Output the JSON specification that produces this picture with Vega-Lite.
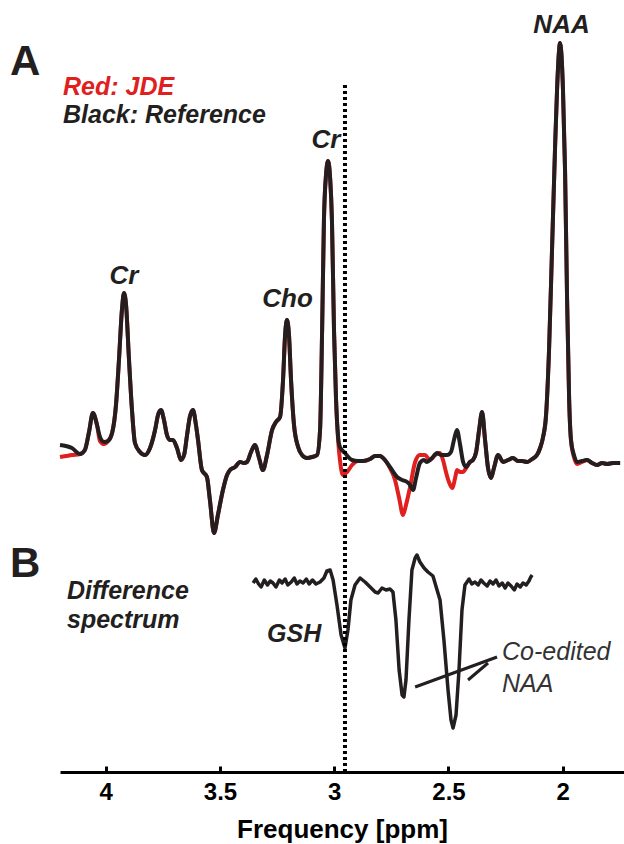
{
  "$schema": "https://vega.github.io/schema/vega-lite/v6.json",
  "width": 564,
  "height": 772,
  "autosize": {"type": "none"},
  "padding": {"left": 60, "top": 0, "right": 0, "bottom": 72},
  "background": "white",
  "config": {"view": {"stroke": null}, "font": "Liberation Sans"},
  "datasets": {
    "black": [
      {"ppm":4.200,"v":32.7},{"ppm":4.174,"v":32.6},{"ppm":4.148,"v":32.4},{"ppm":4.112,"v":31.8},{"ppm":4.091,"v":32.2},{"ppm":4.073,"v":34.0},{"ppm":4.056,"v":35.9},{"ppm":4.038,"v":34.7},{"ppm":4.025,"v":33.5},{"ppm":4.007,"v":33.0},{"ppm":3.990,"v":33.1},{"ppm":3.972,"v":33.9},{"ppm":3.955,"v":36.7},{"ppm":3.942,"v":41.2},{"ppm":3.929,"v":46.2},{"ppm":3.920,"v":47.9},{"ppm":3.911,"v":46.7},{"ppm":3.898,"v":41.2},{"ppm":3.885,"v":36.2},{"ppm":3.872,"v":32.9},{"ppm":3.850,"v":32.0},{"ppm":3.828,"v":31.7},{"ppm":3.806,"v":32.4},{"ppm":3.784,"v":34.2},{"ppm":3.771,"v":35.7},{"ppm":3.758,"v":36.2},{"ppm":3.745,"v":35.2},{"ppm":3.732,"v":33.7},{"ppm":3.719,"v":33.2},{"ppm":3.706,"v":33.2},{"ppm":3.688,"v":32.4},{"ppm":3.671,"v":31.2},{"ppm":3.657,"v":31.7},{"ppm":3.644,"v":33.7},{"ppm":3.631,"v":35.6},{"ppm":3.618,"v":36.2},{"ppm":3.605,"v":34.7},{"ppm":3.596,"v":33.2},{"ppm":3.579,"v":30.2},{"ppm":3.557,"v":29.5},{"ppm":3.544,"v":27.2},{"ppm":3.526,"v":23.9},{"ppm":3.509,"v":25.7},{"ppm":3.487,"v":28.2},{"ppm":3.469,"v":29.7},{"ppm":3.456,"v":30.2},{"ppm":3.434,"v":30.5},{"ppm":3.412,"v":31.0},{"ppm":3.395,"v":30.9},{"ppm":3.382,"v":31.0},{"ppm":3.364,"v":32.0},{"ppm":3.347,"v":32.7},{"ppm":3.329,"v":31.4},{"ppm":3.312,"v":30.2},{"ppm":3.294,"v":31.7},{"ppm":3.272,"v":34.2},{"ppm":3.255,"v":35.0},{"ppm":3.237,"v":35.5},{"ppm":3.224,"v":39.2},{"ppm":3.215,"v":43.7},{"ppm":3.207,"v":45.2},{"ppm":3.198,"v":43.7},{"ppm":3.189,"v":39.2},{"ppm":3.176,"v":34.7},{"ppm":3.158,"v":32.5},{"ppm":3.141,"v":31.7},{"ppm":3.119,"v":31.4},{"ppm":3.097,"v":31.5},{"ppm":3.075,"v":31.7},{"ppm":3.062,"v":34.2},{"ppm":3.053,"v":44.2},{"ppm":3.045,"v":55.2},{"ppm":3.036,"v":59.7},{"ppm":3.027,"v":61.1},{"ppm":3.018,"v":59.4},{"ppm":3.010,"v":55.2},{"ppm":3.001,"v":44.2},{"ppm":2.992,"v":37.2},{"ppm":2.983,"v":33.5},{"ppm":2.975,"v":32.5},{"ppm":2.953,"v":31.9},{"ppm":2.922,"v":31.2},{"ppm":2.896,"v":31.1},{"ppm":2.874,"v":31.1},{"ppm":2.843,"v":31.3},{"ppm":2.821,"v":31.6},{"ppm":2.800,"v":31.6},{"ppm":2.778,"v":31.2},{"ppm":2.756,"v":30.5},{"ppm":2.725,"v":29.5},{"ppm":2.703,"v":29.2},{"ppm":2.681,"v":29.0},{"ppm":2.668,"v":28.7},{"ppm":2.655,"v":28.2},{"ppm":2.642,"v":29.4},{"ppm":2.625,"v":30.9},{"ppm":2.607,"v":31.2},{"ppm":2.594,"v":31.0},{"ppm":2.572,"v":31.4},{"ppm":2.550,"v":31.9},{"ppm":2.533,"v":31.7},{"ppm":2.506,"v":31.7},{"ppm":2.489,"v":32.0},{"ppm":2.476,"v":33.2},{"ppm":2.463,"v":34.2},{"ppm":2.449,"v":32.7},{"ppm":2.436,"v":31.0},{"ppm":2.423,"v":30.5},{"ppm":2.406,"v":31.0},{"ppm":2.393,"v":31.2},{"ppm":2.379,"v":32.0},{"ppm":2.366,"v":34.2},{"ppm":2.353,"v":36.0},{"ppm":2.340,"v":33.2},{"ppm":2.327,"v":30.4},{"ppm":2.314,"v":29.4},{"ppm":2.301,"v":30.4},{"ppm":2.283,"v":31.7},{"ppm":2.261,"v":31.0},{"ppm":2.239,"v":31.2},{"ppm":2.218,"v":31.4},{"ppm":2.196,"v":31.1},{"ppm":2.178,"v":31.1},{"ppm":2.156,"v":31.0},{"ppm":2.134,"v":31.3},{"ppm":2.113,"v":31.7},{"ppm":2.099,"v":32.4},{"ppm":2.086,"v":33.5},{"ppm":2.073,"v":35.7},{"ppm":2.060,"v":42.2},{"ppm":2.047,"v":52.2},{"ppm":2.034,"v":62.2},{"ppm":2.025,"v":68.2},{"ppm":2.016,"v":72.2},{"ppm":2.012,"v":72.9},{"ppm":2.008,"v":72.4},{"ppm":1.999,"v":68.2},{"ppm":1.990,"v":60.2},{"ppm":1.981,"v":47.2},{"ppm":1.972,"v":37.2},{"ppm":1.964,"v":33.2},{"ppm":1.951,"v":31.7},{"ppm":1.937,"v":31.0},{"ppm":1.916,"v":31.1},{"ppm":1.894,"v":31.2},{"ppm":1.872,"v":30.9},{"ppm":1.850,"v":30.7},{"ppm":1.828,"v":30.9},{"ppm":1.806,"v":30.8},{"ppm":1.780,"v":30.9},{"ppm":1.749,"v":30.9}
    ],
    "red": [
      {"ppm":4.200,"v":31.5},{"ppm":4.174,"v":31.6},{"ppm":4.148,"v":31.7},{"ppm":4.112,"v":31.8},{"ppm":4.091,"v":32.2},{"ppm":4.073,"v":34.0},{"ppm":4.056,"v":35.9},{"ppm":4.038,"v":34.7},{"ppm":4.025,"v":33.1},{"ppm":4.007,"v":32.8},{"ppm":3.990,"v":33.1},{"ppm":3.972,"v":33.9},{"ppm":3.955,"v":36.7},{"ppm":3.942,"v":41.2},{"ppm":3.929,"v":46.2},{"ppm":3.920,"v":47.9},{"ppm":3.911,"v":46.7},{"ppm":3.898,"v":41.2},{"ppm":3.885,"v":36.2},{"ppm":3.872,"v":32.9},{"ppm":3.850,"v":32.0},{"ppm":3.828,"v":31.7},{"ppm":3.806,"v":32.4},{"ppm":3.784,"v":34.2},{"ppm":3.771,"v":35.7},{"ppm":3.758,"v":36.2},{"ppm":3.745,"v":35.2},{"ppm":3.732,"v":33.7},{"ppm":3.719,"v":33.2},{"ppm":3.706,"v":33.2},{"ppm":3.688,"v":32.4},{"ppm":3.671,"v":31.2},{"ppm":3.657,"v":31.7},{"ppm":3.644,"v":33.7},{"ppm":3.631,"v":35.6},{"ppm":3.618,"v":36.2},{"ppm":3.605,"v":34.7},{"ppm":3.596,"v":33.2},{"ppm":3.579,"v":30.2},{"ppm":3.557,"v":29.5},{"ppm":3.544,"v":27.2},{"ppm":3.526,"v":23.9},{"ppm":3.509,"v":25.7},{"ppm":3.487,"v":28.2},{"ppm":3.469,"v":29.7},{"ppm":3.456,"v":30.2},{"ppm":3.434,"v":30.5},{"ppm":3.412,"v":31.0},{"ppm":3.395,"v":30.9},{"ppm":3.382,"v":31.0},{"ppm":3.364,"v":32.0},{"ppm":3.347,"v":32.7},{"ppm":3.329,"v":31.4},{"ppm":3.312,"v":30.2},{"ppm":3.294,"v":31.7},{"ppm":3.272,"v":34.2},{"ppm":3.255,"v":35.0},{"ppm":3.237,"v":35.5},{"ppm":3.224,"v":39.2},{"ppm":3.215,"v":43.7},{"ppm":3.207,"v":45.2},{"ppm":3.198,"v":43.7},{"ppm":3.189,"v":39.2},{"ppm":3.176,"v":34.7},{"ppm":3.158,"v":32.5},{"ppm":3.141,"v":31.7},{"ppm":3.119,"v":31.4},{"ppm":3.097,"v":31.5},{"ppm":3.075,"v":31.7},{"ppm":3.062,"v":34.2},{"ppm":3.053,"v":44.2},{"ppm":3.045,"v":55.2},{"ppm":3.036,"v":59.7},{"ppm":3.027,"v":61.1},{"ppm":3.018,"v":59.4},{"ppm":3.010,"v":55.2},{"ppm":3.001,"v":44.2},{"ppm":2.992,"v":37.2},{"ppm":2.983,"v":33.2},{"ppm":2.975,"v":31.2},{"ppm":2.962,"v":29.7},{"ppm":2.944,"v":30.0},{"ppm":2.922,"v":30.7},{"ppm":2.896,"v":31.1},{"ppm":2.874,"v":31.1},{"ppm":2.843,"v":31.3},{"ppm":2.821,"v":31.6},{"ppm":2.800,"v":31.6},{"ppm":2.778,"v":31.2},{"ppm":2.756,"v":30.4},{"ppm":2.734,"v":29.2},{"ppm":2.716,"v":27.4},{"ppm":2.699,"v":25.7},{"ppm":2.686,"v":26.7},{"ppm":2.668,"v":28.5},{"ppm":2.646,"v":31.0},{"ppm":2.625,"v":31.7},{"ppm":2.603,"v":31.7},{"ppm":2.581,"v":31.2},{"ppm":2.559,"v":31.7},{"ppm":2.537,"v":31.9},{"ppm":2.524,"v":31.2},{"ppm":2.511,"v":30.0},{"ppm":2.498,"v":29.0},{"ppm":2.484,"v":28.4},{"ppm":2.471,"v":29.4},{"ppm":2.463,"v":30.2},{"ppm":2.449,"v":30.0},{"ppm":2.436,"v":30.0},{"ppm":2.423,"v":30.4},{"ppm":2.406,"v":31.0},{"ppm":2.393,"v":31.2},{"ppm":2.379,"v":32.0},{"ppm":2.366,"v":34.2},{"ppm":2.353,"v":36.0},{"ppm":2.340,"v":33.2},{"ppm":2.327,"v":30.4},{"ppm":2.314,"v":29.4},{"ppm":2.301,"v":30.4},{"ppm":2.283,"v":31.7},{"ppm":2.261,"v":31.0},{"ppm":2.239,"v":31.2},{"ppm":2.218,"v":31.4},{"ppm":2.196,"v":31.1},{"ppm":2.178,"v":31.1},{"ppm":2.156,"v":31.0},{"ppm":2.134,"v":31.3},{"ppm":2.113,"v":31.7},{"ppm":2.099,"v":32.4},{"ppm":2.086,"v":33.5},{"ppm":2.073,"v":35.7},{"ppm":2.060,"v":42.2},{"ppm":2.047,"v":52.2},{"ppm":2.034,"v":62.2},{"ppm":2.025,"v":68.2},{"ppm":2.016,"v":72.2},{"ppm":2.012,"v":72.9},{"ppm":2.008,"v":72.4},{"ppm":1.999,"v":68.2},{"ppm":1.990,"v":60.2},{"ppm":1.981,"v":47.2},{"ppm":1.972,"v":37.2},{"ppm":1.964,"v":33.2},{"ppm":1.951,"v":31.5},{"ppm":1.937,"v":30.8},{"ppm":1.916,"v":31.0},{"ppm":1.894,"v":31.2},{"ppm":1.872,"v":30.9},{"ppm":1.850,"v":30.7},{"ppm":1.828,"v":30.9},{"ppm":1.806,"v":30.8},{"ppm":1.780,"v":30.9},{"ppm":1.749,"v":30.9}
    ],
    "diff": [
      {"ppm":3.355,"v":18.9},{"ppm":3.343,"v":19.3},{"ppm":3.331,"v":18.8},{"ppm":3.320,"v":18.5},{"ppm":3.306,"v":19.2},{"ppm":3.292,"v":18.7},{"ppm":3.280,"v":19.1},{"ppm":3.268,"v":18.9},{"ppm":3.255,"v":18.5},{"ppm":3.240,"v":19.2},{"ppm":3.228,"v":18.9},{"ppm":3.215,"v":19.3},{"ppm":3.203,"v":18.7},{"ppm":3.188,"v":19.0},{"ppm":3.175,"v":19.4},{"ppm":3.163,"v":18.8},{"ppm":3.150,"v":19.1},{"ppm":3.136,"v":18.9},{"ppm":3.122,"v":19.3},{"ppm":3.110,"v":18.8},{"ppm":3.095,"v":19.2},{"ppm":3.080,"v":18.8},{"ppm":3.062,"v":19.0},{"ppm":3.045,"v":19.4},{"ppm":3.032,"v":20.1},{"ppm":3.018,"v":20.2},{"ppm":3.005,"v":19.2},{"ppm":2.988,"v":16.7},{"ppm":2.970,"v":13.7},{"ppm":2.953,"v":12.4},{"ppm":2.940,"v":14.2},{"ppm":2.927,"v":17.2},{"ppm":2.909,"v":18.7},{"ppm":2.887,"v":19.4},{"ppm":2.865,"v":19.0},{"ppm":2.843,"v":18.5},{"ppm":2.821,"v":18.0},{"ppm":2.808,"v":17.9},{"ppm":2.791,"v":18.4},{"ppm":2.773,"v":18.2},{"ppm":2.756,"v":18.3},{"ppm":2.743,"v":18.0},{"ppm":2.730,"v":15.2},{"ppm":2.716,"v":10.2},{"ppm":2.703,"v":7.7},{"ppm":2.695,"v":7.5},{"ppm":2.686,"v":9.2},{"ppm":2.673,"v":15.2},{"ppm":2.660,"v":20.2},{"ppm":2.646,"v":21.4},{"ppm":2.638,"v":21.7},{"ppm":2.625,"v":21.0},{"ppm":2.607,"v":20.4},{"ppm":2.590,"v":20.0},{"ppm":2.568,"v":19.6},{"ppm":2.550,"v":18.2},{"ppm":2.537,"v":17.2},{"ppm":2.520,"v":13.2},{"ppm":2.502,"v":8.2},{"ppm":2.489,"v":5.2},{"ppm":2.480,"v":4.4},{"ppm":2.467,"v":5.7},{"ppm":2.454,"v":10.2},{"ppm":2.441,"v":16.2},{"ppm":2.428,"v":18.7},{"ppm":2.419,"v":19.0},{"ppm":2.410,"v":19.3},{"ppm":2.398,"v":18.8},{"ppm":2.384,"v":19.0},{"ppm":2.370,"v":18.7},{"ppm":2.358,"v":19.2},{"ppm":2.346,"v":18.9},{"ppm":2.331,"v":18.6},{"ppm":2.318,"v":19.1},{"ppm":2.305,"v":18.8},{"ppm":2.292,"v":19.2},{"ppm":2.279,"v":18.6},{"ppm":2.265,"v":18.9},{"ppm":2.252,"v":18.4},{"ppm":2.240,"v":18.9},{"ppm":2.226,"v":18.6},{"ppm":2.212,"v":18.2},{"ppm":2.200,"v":18.8},{"ppm":2.186,"v":18.5},{"ppm":2.174,"v":18.9},{"ppm":2.160,"v":18.7},{"ppm":2.148,"v":19.1},{"ppm":2.140,"v":19.5},{"ppm":2.134,"v":19.7}
    ]
  },
  "layer": [
    {
      "data": {"name": "red"},
      "mark": {"type": "line", "color": "#e0201e", "strokeWidth": 4, "strokeJoin": "round", "interpolate": "monotone"},
      "encoding": {
        "x": {"field": "ppm", "type": "quantitative",
          "scale": {"domain": [4.2, 1.732], "nice": false, "zero": false},
          "axis": {"values": [4, 3.5, 3, 2.5, 2], "format": "~g", "title": "Frequency [ppm]", "grid": false,
            "domainColor": "#000", "domainWidth": 3, "tickColor": "#000", "tickWidth": 3, "tickSize": -6,
            "labelFont": "Liberation Sans", "labelFontSize": 24, "labelFontWeight": "bold", "labelColor": "#000", "labelPadding": 14, "labelFlush": false,
            "titleFont": "Liberation Sans", "titleFontSize": 26, "titleFontWeight": "bold", "titleColor": "#000", "titlePadding": 12}},
        "y": {"field": "v", "type": "quantitative", "scale": {"domain": [0, 77.2], "nice": false}, "axis": null}
      }
    },
    {
      "data": {"name": "black"},
      "mark": {"type": "line", "color": "#231f20", "strokeWidth": 4, "strokeJoin": "round", "interpolate": "monotone"},
      "encoding": {
        "x": {"field": "ppm", "type": "quantitative"},
        "y": {"field": "v", "type": "quantitative"}
      }
    },
    {
      "data": {"name": "diff"},
      "mark": {"type": "line", "color": "#231f20", "strokeWidth": 3.5, "strokeJoin": "round"},
      "encoding": {
        "x": {"field": "ppm", "type": "quantitative"},
        "y": {"field": "v", "type": "quantitative"}
      }
    },
    {
      "data": {"values": [{"ppm": 2.953, "v": 0, "v2": 69.0}]},
      "mark": {"type": "rule", "color": "#000", "strokeWidth": 4, "strokeDash": [3, 3]},
      "encoding": {
        "x": {"field": "ppm", "type": "quantitative"},
        "y": {"field": "v", "type": "quantitative"},
        "y2": {"field": "v2"}
      }
    },
    {
      "data": {"values": [
        {"ppm": 2.646, "v": 8.5, "ppm2": 2.2875, "v2": 11.5},
        {"ppm": 2.4145, "v": 9.2, "ppm2": 2.327, "v2": 10.9}
      ]},
      "mark": {"type": "rule", "color": "#231f20", "strokeWidth": 3},
      "encoding": {
        "x": {"field": "ppm", "type": "quantitative"},
        "x2": {"field": "ppm2"},
        "y": {"field": "v", "type": "quantitative"},
        "y2": {"field": "v2"}
      }
    },
    {
      "data": {"values": [{"t": "A", "ppm": 4.4188, "v": 69.7}, {"t": "B", "ppm": 4.4188, "v": 19.5}]},
      "mark": {"type": "text", "align": "left", "baseline": "alphabetic", "font": "Liberation Sans", "fontSize": 42, "fontWeight": "bold", "color": "#231f20"},
      "encoding": {
        "x": {"field": "ppm", "type": "quantitative"},
        "y": {"field": "v", "type": "quantitative"},
        "text": {"field": "t"}
      }
    },
    {
      "data": {"values": [{"t": "Red: JDE", "ppm": 4.1869, "v": 67.7}]},
      "mark": {"type": "text", "align": "left", "baseline": "alphabetic", "font": "Liberation Sans", "fontSize": 25, "fontWeight": "bold", "fontStyle": "italic", "color": "#e0201e"},
      "encoding": {
        "x": {"field": "ppm", "type": "quantitative"},
        "y": {"field": "v", "type": "quantitative"},
        "text": {"field": "t"}
      }
    },
    {
      "data": {"values": [
        {"t": "Black: Reference", "ppm": 4.1869, "v": 64.9},
        {"t": "Difference", "ppm": 4.1694, "v": 17.3},
        {"t": "spectrum", "ppm": 4.1694, "v": 14.4},
        {"t": "GSH", "ppm": 3.294, "v": 13.0}
      ]},
      "mark": {"type": "text", "align": "left", "baseline": "alphabetic", "font": "Liberation Sans", "fontSize": 25, "fontWeight": "bold", "fontStyle": "italic", "color": "#231f20"},
      "encoding": {
        "x": {"field": "ppm", "type": "quantitative"},
        "y": {"field": "v", "type": "quantitative"},
        "text": {"field": "t"}
      }
    },
    {
      "data": {"values": [
        {"t": "Cr", "ppm": 3.920, "v": 48.8},
        {"t": "Cho", "ppm": 3.2044, "v": 46.5},
        {"t": "Cr", "ppm": 3.036, "v": 62.4},
        {"t": "NAA", "ppm": 2.0053, "v": 73.9}
      ]},
      "mark": {"type": "text", "align": "center", "baseline": "alphabetic", "font": "Liberation Sans", "fontSize": 26, "fontWeight": "bold", "fontStyle": "italic", "color": "#231f20"},
      "encoding": {
        "x": {"field": "ppm", "type": "quantitative"},
        "y": {"field": "v", "type": "quantitative"},
        "text": {"field": "t"}
      }
    },
    {
      "data": {"values": [
        {"t": "Co-edited", "ppm": 2.2657, "v": 11.2},
        {"t": "NAA", "ppm": 2.2657, "v": 8.0}
      ]},
      "mark": {"type": "text", "align": "left", "baseline": "alphabetic", "font": "Liberation Sans", "fontSize": 25, "fontStyle": "italic", "color": "#333333"},
      "encoding": {
        "x": {"field": "ppm", "type": "quantitative"},
        "y": {"field": "v", "type": "quantitative"},
        "text": {"field": "t"}
      }
    }
  ]
}
